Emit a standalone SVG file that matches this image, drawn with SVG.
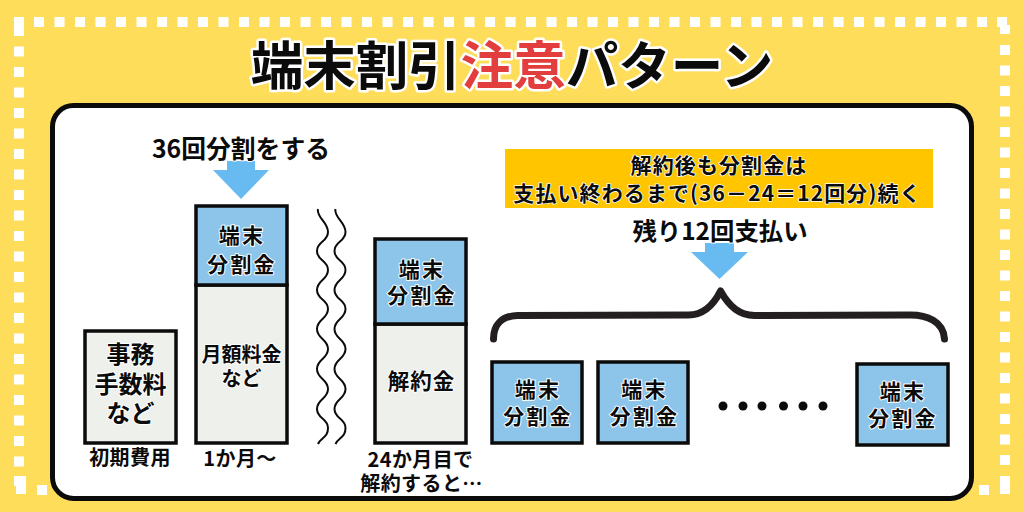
<svg xmlns="http://www.w3.org/2000/svg" width="1024" height="512" viewBox="0 0 1024 512">
<style>
text{font-family:"Noto Sans CJK JP","Noto Sans",sans-serif;font-weight:700;fill:#0b0b0b;text-anchor:middle;paint-order:stroke;stroke:#fff;stroke-linejoin:round}
.t{font-size:52.500px;stroke-width:5px}
.m{font-size:24.800px;stroke-width:2px}
.s{font-size:21px;letter-spacing:2.200px;stroke-width:2px}
.g{font-size:20px;stroke-width:2px}
.k{font-size:21.500px;letter-spacing:1px;stroke-width:2px}
.x{font-size:20px;letter-spacing:.4px;stroke-width:1.500px}
.n{font-size:21px;letter-spacing:1.100px;stroke-width:1.500px}
.r{font-size:24.400px;stroke-width:2px}
.l{font-size:24px;stroke-width:2px}
.blue{fill:#8cc5e9;stroke:#0b0b0b;stroke-width:3.500px}
.gray{fill:#eef0ec;stroke:#0b0b0b;stroke-width:3.500px}
.arrow{fill:#68bbf1}
.wave{fill:none;stroke:#0b0b0b;stroke-width:2px}
.dot{fill:#fff}
</style>
<defs>
<path id="wv" d="M318 209C316 217 328 222 328 232S317 241 317 251S328 260 328 270S317 280 317 290S328 299 328 309S317 319 317 329S328 339 328 349S317 359 317 369S328 379 328 389S317 399 317 409S328 418 328 428S321 437 318 444"/>
</defs>
<rect width="1024" height="512" fill="#fedd5b"/>
<g id="border">
<path class="dot" d="M14 17h10v19h-10zM37 485h10v10h-10zM1000 25h10v9h-10zM997 17h10v10h-10zM1000 476h10v18h-10zM979 485h10v10h-10zM16 476h10v18h-10zM14 476h10v10h-10z"/>
<g id="top-dots" class="dot">
<rect x="34" y="17" width="10" height="10"/><rect x="54.500" y="17" width="10" height="10"/><rect x="75" y="17" width="10" height="10"/><rect x="95.500" y="17" width="10" height="10"/><rect x="116" y="17" width="10" height="10"/><rect x="136.500" y="17" width="10" height="10"/><rect x="157" y="17" width="10" height="10"/><rect x="177.500" y="17" width="10" height="10"/><rect x="198" y="17" width="10" height="10"/><rect x="218.500" y="17" width="10" height="10"/><rect x="239" y="17" width="10" height="10"/><rect x="259.500" y="17" width="10" height="10"/><rect x="280" y="17" width="10" height="10"/><rect x="300.500" y="17" width="10" height="10"/><rect x="321" y="17" width="10" height="10"/><rect x="341.500" y="17" width="10" height="10"/><rect x="362" y="17" width="10" height="10"/><rect x="382.500" y="17" width="10" height="10"/><rect x="403" y="17" width="10" height="10"/><rect x="423.500" y="17" width="10" height="10"/><rect x="444" y="17" width="10" height="10"/><rect x="464.500" y="17" width="10" height="10"/><rect x="485" y="17" width="10" height="10"/><rect x="505.500" y="17" width="10" height="10"/><rect x="526" y="17" width="10" height="10"/><rect x="546.500" y="17" width="10" height="10"/><rect x="567" y="17" width="10" height="10"/><rect x="587.500" y="17" width="10" height="10"/><rect x="608" y="17" width="10" height="10"/><rect x="628.500" y="17" width="10" height="10"/><rect x="649" y="17" width="10" height="10"/><rect x="669.500" y="17" width="10" height="10"/><rect x="690" y="17" width="10" height="10"/><rect x="710.500" y="17" width="10" height="10"/><rect x="731" y="17" width="10" height="10"/><rect x="751.500" y="17" width="10" height="10"/><rect x="772" y="17" width="10" height="10"/><rect x="792.500" y="17" width="10" height="10"/><rect x="813" y="17" width="10" height="10"/><rect x="833.500" y="17" width="10" height="10"/><rect x="854" y="17" width="10" height="10"/><rect x="874.500" y="17" width="10" height="10"/><rect x="895" y="17" width="10" height="10"/><rect x="915.500" y="17" width="10" height="10"/><rect x="936" y="17" width="10" height="10"/><rect x="956.500" y="17" width="10" height="10"/><rect x="977" y="17" width="10" height="10"/>
</g>
<g id="side-dots" class="dot">
<rect x="14" y="46.500" width="10" height="10"/><rect x="14" y="67" width="10" height="10"/><rect x="14" y="87.500" width="10" height="10"/><rect x="14" y="108" width="10" height="10"/><rect x="14" y="128.500" width="10" height="10"/><rect x="14" y="149" width="10" height="10"/><rect x="14" y="169.500" width="10" height="10"/><rect x="14" y="190" width="10" height="10"/><rect x="14" y="210.500" width="10" height="10"/><rect x="14" y="231" width="10" height="10"/><rect x="14" y="251.500" width="10" height="10"/><rect x="14" y="272" width="10" height="10"/><rect x="14" y="292.500" width="10" height="10"/><rect x="14" y="313" width="10" height="10"/><rect x="14" y="333.500" width="10" height="10"/><rect x="14" y="354" width="10" height="10"/><rect x="14" y="374.500" width="10" height="10"/><rect x="14" y="395" width="10" height="10"/><rect x="14" y="415.500" width="10" height="10"/><rect x="14" y="436" width="10" height="10"/><rect x="14" y="456.500" width="10" height="10"/>
<rect x="1000" y="45" width="10" height="10"/><rect x="1000" y="65.500" width="10" height="10"/><rect x="1000" y="86" width="10" height="10"/><rect x="1000" y="106.500" width="10" height="10"/><rect x="1000" y="127" width="10" height="10"/><rect x="1000" y="147.500" width="10" height="10"/><rect x="1000" y="168" width="10" height="10"/><rect x="1000" y="188.500" width="10" height="10"/><rect x="1000" y="209" width="10" height="10"/><rect x="1000" y="229.500" width="10" height="10"/><rect x="1000" y="250" width="10" height="10"/><rect x="1000" y="270.500" width="10" height="10"/><rect x="1000" y="291" width="10" height="10"/><rect x="1000" y="311.500" width="10" height="10"/><rect x="1000" y="332" width="10" height="10"/><rect x="1000" y="352.500" width="10" height="10"/><rect x="1000" y="373" width="10" height="10"/><rect x="1000" y="393.500" width="10" height="10"/><rect x="1000" y="414" width="10" height="10"/><rect x="1000" y="434.500" width="10" height="10"/><rect x="1000" y="455" width="10" height="10"/>
</g>
</g>
<g id="title"><text class="t" x="512" y="85"><tspan>端末割引</tspan><tspan fill="#e23e3e">注意</tspan><tspan>パターン</tspan></text></g>
<rect id="panel" x="52.500" y="105.500" width="919" height="393" rx="21" fill="#fff" stroke="#0b0b0b" stroke-width="5"/>
<g id="connectors">
<path class="arrow" d="M227 161h28v9h14l-28 29-28-29h14z"/>
<path class="arrow" d="M705 243h29v9h14l-28.500 27-28.500-27h14z"/>
<use href="#wv" class="wave"/>
<use href="#wv" class="wave" x="17.500"/>
<path d="M493.500 339c0-14 8-23 24-23.500l171-.500c14 0 24-8 32-24 9 16 19 24 34 24.500l156-.500c16 0 33 6 34 24" fill="none" stroke="#231f20" stroke-width="7" stroke-linecap="round" stroke-linejoin="round"/>
</g>
<g id="label-36"><text class="m" x="241" y="158">36回分割をする</text></g>
<g id="node-fee"><rect class="gray" x="85" y="331" width="91" height="112"/><text class="l" x="130.500" y="363">事務</text><text class="l" x="130.500" y="393">手数料</text><text class="l" x="130.500" y="422">など</text></g>
<g id="label-initial"><text class="x" x="130" y="465">初期費用</text></g>
<g id="node-month"><rect class="gray" x="196" y="285" width="91" height="158"/><rect class="blue" x="196" y="206" width="91" height="79"/><text class="s" x="242" y="243">端末</text><text class="s" x="242" y="272">分割金</text><text class="g" x="241.500" y="362">月額料金</text><text class="g" x="241.500" y="386">など</text></g>
<g id="label-month"><text class="x" x="240" y="466">1か月～</text></g>
<g id="node-24"><rect class="gray" x="375" y="324" width="91" height="119"/><rect class="blue" x="375" y="239" width="91" height="85"/><text class="s" x="422" y="277">端末</text><text class="s" x="422" y="303">分割金</text><text class="k" x="421.500" y="389">解約金</text></g>
<g id="label-24"><text class="x" x="420.500" y="467">24か月目で</text><text class="x" x="421.500" y="491">解約すると…</text></g>
<g id="note"><rect x="505" y="149" width="428" height="59" fill="#ffc600"/><text class="n" x="719" y="173">解約後も分割金は</text><text class="n" x="717.500" y="201">支払い終わるまで(36－24＝12回分)続く</text></g>
<g id="label-12"><text class="r" x="720" y="240">残り12回支払い</text></g>
<g id="node-a"><rect class="blue" x="492" y="362" width="90" height="81"/><text class="s" x="538" y="397">端末</text><text class="s" x="538" y="424">分割金</text></g>
<g id="node-b"><rect class="blue" x="598" y="362" width="90" height="81"/><text class="s" x="644.500" y="397">端末</text><text class="s" x="644.500" y="424">分割金</text></g>
<g id="node-c"><rect class="blue" x="857" y="364" width="91" height="81"/><text class="s" x="903" y="399">端末</text><text class="s" x="903" y="426">分割金</text></g>
<g id="dots" fill="#0b0b0b"><circle cx="723" cy="406" r="4.500"/><circle cx="743" cy="406" r="4.500"/><circle cx="762" cy="406" r="4.500"/><circle cx="783.500" cy="406" r="4.500"/><circle cx="803" cy="406" r="4.500"/><circle cx="823" cy="406" r="4.500"/></g>
</svg>
